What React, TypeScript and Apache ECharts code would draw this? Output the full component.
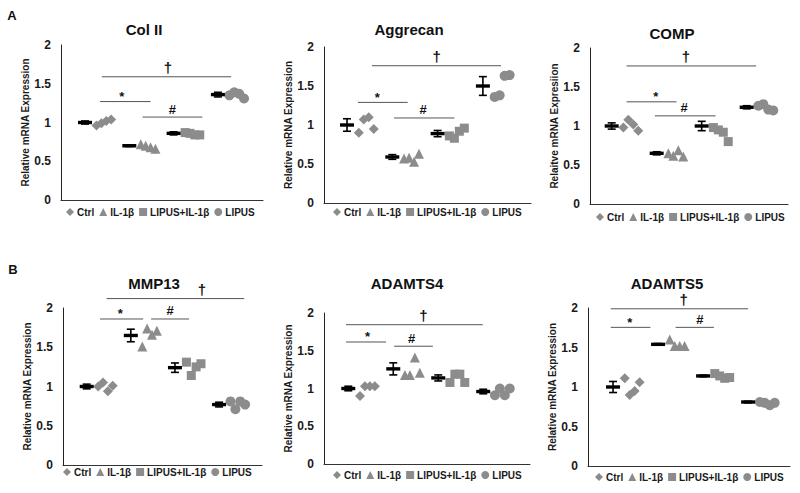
import React, { useEffect, useRef } from "react";
import * as echarts from "echarts";

const GROUPS = ["Ctrl", "IL-1β", "LIPUS+IL-1β", "LIPUS"];
const SYMBOLS = ["diamond", "triangle", "rect", "circle"];
const SYMBOL_SIZES = [10, 10, 9, 10];
const Y_TICKS = [0, 0.5, 1, 1.5, 2];

// Col II
const colIIMeans = [1.0, 0.7, 0.86, 1.36];
const colIISem = [0.02, 0.01, 0.02, 0.03];
const colIIPoints = [
  [0.96, 0.99, 1.02, 1.04],
  [0.72, 0.7, 0.68, 0.66],
  [0.87, 0.86, 0.84, 0.84],
  [1.35, 1.39, 1.37, 1.31],
];
const colIISig = [
  { x1: 1.38, x2: 4.3, y: 1.59, tx: 2.87, mark: "†" },
  { x1: 1.34, x2: 2.48, y: 1.27, tx: 1.83, mark: "*" },
  { x1: 2.3, x2: 3.65, y: 1.07, tx: 2.97, mark: "#" },
];

// Aggrecan
const aggMeans = [1.0, 0.59, 0.89, 1.5];
const aggSem = [0.08, 0.03, 0.04, 0.12];
const aggPoints = [
  [0.9, 1.07, 1.1, 0.95],
  [0.57, 0.58, 0.53, 0.63],
  [0.86, 0.83, 0.92, 0.96],
  [1.36, 1.38, 1.63, 1.64],
];
const aggSig = [
  { x1: 1.55, x2: 4.4, y: 1.76, tx: 2.98, mark: "†" },
  { x1: 1.24, x2: 2.34, y: 1.29, tx: 1.67, mark: "*" },
  { x1: 2.04, x2: 3.37, y: 1.09, tx: 2.68, mark: "#" },
];

// COMP
const compMeans = [1.0, 0.65, 1.0, 1.24];
const compSem = [0.04, 0.02, 0.06, 0.02];
const compPoints = [
  [0.98, 1.08, 1.02, 0.94],
  [0.65, 0.62, 0.69, 0.61],
  [0.98, 0.95, 0.92, 0.8],
  [1.26, 1.28, 1.21, 1.2],
];
const compSig = [
  { x1: 1.33, x2: 4.21, y: 1.77, tx: 2.65, mark: "†" },
  { x1: 1.33, x2: 2.44, y: 1.31, tx: 1.98, mark: "*" },
  { x1: 1.96, x2: 3.31, y: 1.13, tx: 2.61, mark: "#" },
];

// MMP13
const mmpMeans = [1.0, 1.65, 1.24, 0.77];
const mmpSem = [0.03, 0.08, 0.06, 0.03];
const mmpPoints = [
  [1.0, 1.05, 0.94, 1.01],
  [1.51, 1.74, 1.66, 1.71],
  [1.31, 1.14, 1.25, 1.29],
  [0.81, 0.71, 0.81, 0.77],
];
const mmpSig = [
  { x1: 1.45, x2: 4.57, y: 2.12, tx: 3.61, mark: "†" },
  { x1: 1.3, x2: 2.28, y: 1.86, tx: 1.76, mark: "*" },
  { x1: 2.46, x2: 3.32, y: 1.86, tx: 2.89, mark: "#" },
];

// ADAMTS4
const ad4Means = [1.0, 1.26, 1.14, 0.96];
const ad4Sem = [0.03, 0.08, 0.04, 0.03];
const ad4Points = [
  [0.9, 1.03, 1.03, 1.03],
  [1.18, 1.18, 1.41, 1.21],
  [1.08, 1.19, 1.19, 1.08],
  [0.91, 1.0, 0.91, 1.0],
];
const ad4Sig = [
  { x1: 0.95, x2: 3.99, y: 1.845, tx: 2.67, mark: "†" },
  { x1: 0.95, x2: 1.84, y: 1.616, tx: 1.43, mark: "*" },
  { x1: 2.02, x2: 2.88, y: 1.56, tx: 2.41, mark: "#" },
];

// ADAMTS5
const ad5Means = [1.0, 1.54, 1.14, 0.81];
const ad5Sem = [0.07, 0.01, 0.01, 0.01];
const ad5Points = [
  [1.11, 0.9, 0.95, 1.06],
  [1.6, 1.52, 1.52, 1.52],
  [1.17, 1.14, 1.11, 1.12],
  [0.81, 0.8, 0.77, 0.8],
];
const ad5Sig = [
  { x1: 0.95, x2: 4.0, y: 1.99, tx: 2.57, mark: "†" },
  { x1: 0.95, x2: 1.83, y: 1.755, tx: 1.37, mark: "*" },
  { x1: 2.39, x2: 3.24, y: 1.755, tx: 2.93, mark: "#" },
];

const PANELS = [
  { title: "Col II", yName: "Relative mRNA Expression", means: colIIMeans, sem: colIISem, points: colIIPoints, sig: colIISig },
  { title: "Aggrecan", yName: "Relative mRNA Expression", means: aggMeans, sem: aggSem, points: aggPoints, sig: aggSig },
  { title: "COMP", yName: "Relaitve mRNA Expresiion", means: compMeans, sem: compSem, points: compPoints, sig: compSig },
  { title: "MMP13", yName: "Relative mRNA Expression", means: mmpMeans, sem: mmpSem, points: mmpPoints, sig: mmpSig },
  { title: "ADAMTS4", yName: "Relative mRNA Expression", means: ad4Means, sem: ad4Sem, points: ad4Points, sig: ad4Sig },
  { title: "ADAMTS5", yName: "Relative mRNA Expression", means: ad5Means, sem: ad5Sem, points: ad5Points, sig: ad5Sig },
];

// layout (pixels / axis extents)
const LAYOUT = [
  { left: 61, top: 45, width: 202, height: 155, xMin: 0.458, xMax: 5.018, tx: 144, ty: 29, lx: 66, ly: 207 },
  { left: 324, top: 47, width: 207, height: 156, xMin: 0.492, xMax: 5.062, tx: 409, ty: 29, lx: 333, ly: 207 },
  { left: 590, top: 48, width: 198, height: 156, xMin: 0.518, xMax: 4.918, tx: 672, ty: 33, lx: 596, ly: 212 },
  { left: 63, top: 308, width: 199, height: 157, xMin: 0.463, xMax: 4.973, tx: 154, ty: 283, lx: 63, ly: 467 },
  { left: 324, top: 313, width: 206, height: 151, xMin: 0.46, xMax: 5.04, tx: 407, ty: 283, lx: 333, ly: 470 },
  { left: 588, top: 308, width: 202, height: 158, xMin: 0.444, xMax: 4.93, tx: 667, ty: 283, lx: 595, ly: 472 },
];
const OFFSETS = [0.26, 0.37, 0.48, 0.59];
const GRAY = "#8c8c8c";
const FONT = "Liberation Sans";

function buildOption() {
  const grid: any[] = [];
  const xAxis: any[] = [];
  const yAxis: any[] = [];
  const series: any[] = [];
  const legend: any[] = [];
  const graphic: any[] = [];

  PANELS.forEach((p, i) => {
    const L = LAYOUT[i];
    grid.push({ left: L.left, top: L.top, width: L.width, height: L.height, containLabel: false });
    xAxis.push({
      type: "value",
      gridIndex: i,
      min: L.xMin,
      max: L.xMax,
      axisLine: { show: true, onZero: false, lineStyle: { color: "#333", width: 1 } },
      axisTick: { show: false },
      axisLabel: { show: false },
      splitLine: { show: false },
    });
    yAxis.push({
      type: "value",
      gridIndex: i,
      min: Y_TICKS[0],
      max: Y_TICKS[Y_TICKS.length - 1],
      interval: 0.5,
      name: p.yName,
      nameLocation: "middle",
      nameGap: 29,
      nameTextStyle: { fontFamily: FONT, fontWeight: "bold", fontSize: 10, color: "#1a1a1a" },
      axisLine: { show: true, lineStyle: { color: "#222", width: 1 } },
      axisTick: { show: false },
      splitLine: { show: false },
      axisLabel: { fontFamily: FONT, fontWeight: "bold", fontSize: 12, color: "#1a1a1a", margin: 10 },
    });

    GROUPS.forEach((g, gi) => {
      series.push({
        type: "scatter",
        name: g,
        xAxisIndex: i,
        yAxisIndex: i,
        symbol: SYMBOLS[gi],
        symbolSize: SYMBOL_SIZES[gi],
        itemStyle: { color: GRAY, opacity: 1 },
        data: p.points[gi].map((v, j) => [gi + 1 + OFFSETS[j], v]),
        z: 3,
      });
    });

    series.push({
      type: "custom",
      xAxisIndex: i,
      yAxisIndex: i,
      clip: false,
      encode: { x: 0, y: 1 },
      data: p.means.map((m, gi) => [gi + 1, m, p.sem[gi]]),
      renderItem: (params: any, api: any) => {
        const x = api.value(0);
        const m = api.value(1);
        const s = api.value(2);
        const c = api.coord([x, m]);
        const t = api.coord([x, m + s]);
        const b = api.coord([x, m - s]);
        const st = { stroke: "#000", lineWidth: 1.6 };
        return {
          type: "group",
          children: [
            { type: "rect", shape: { x: c[0] - 7, y: c[1] - 1.7, width: 14, height: 3.4 }, style: { fill: "#000" } },
            { type: "line", shape: { x1: c[0], y1: t[1], x2: c[0], y2: b[1] }, style: st },
            { type: "line", shape: { x1: c[0] - 4, y1: t[1], x2: c[0] + 4, y2: t[1] }, style: st },
            { type: "line", shape: { x1: c[0] - 4, y1: b[1], x2: c[0] + 4, y2: b[1] }, style: st },
          ],
        };
      },
      z: 4,
    });

    series.push({
      type: "custom",
      xAxisIndex: i,
      yAxisIndex: i,
      clip: false,
      encode: { x: [0, 1], y: 2 },
      data: p.sig.map((s) => [s.x1, s.x2, s.y, s.tx]),
      renderItem: (params: any, api: any) => {
        const a = api.coord([api.value(0), api.value(2)]);
        const b = api.coord([api.value(1), api.value(2)]);
        const t = api.coord([api.value(3), api.value(2)]);
        const mark = p.sig[params.dataIndex].mark;
        const dy = mark === "†" ? 9 : mark === "*" ? 5 : 8;
        const fs = mark === "†" ? 15 : 13;
        return {
          type: "group",
          children: [
            { type: "line", shape: { x1: a[0], y1: a[1], x2: b[0], y2: b[1] }, style: { stroke: "#555", lineWidth: 1 } },
            {
              type: "text",
              x: t[0],
              y: t[1] - dy,
              style: { text: mark, fontFamily: FONT, fontWeight: "bold", fontSize: fs, fill: "#111", align: "center", verticalAlign: "middle" },
            },
          ],
        };
      },
      z: 5,
    });

    legend.push({
      left: L.lx,
      top: L.ly,
      orient: "horizontal",
      data: GROUPS,
      selectedMode: false,
      itemWidth: 8,
      itemHeight: 8,
      itemGap: 5,
      padding: 0,
      textStyle: { fontFamily: FONT, fontWeight: "bold", fontSize: 10, color: "#1a1a1a", padding: [0, 0, 0, -2] },
    });

    graphic.push({
      type: "text",
      x: L.tx,
      y: L.ty,
      style: { text: p.title, fontFamily: FONT, fontWeight: "bold", fontSize: 15, fill: "#111", align: "center", verticalAlign: "middle" },
    });
  });

  graphic.push({ type: "text", x: 12, y: 15, style: { text: "A", fontFamily: FONT, fontWeight: "bold", fontSize: 13, fill: "#111", align: "center", verticalAlign: "middle" } });
  graphic.push({ type: "text", x: 13, y: 269, style: { text: "B", fontFamily: FONT, fontWeight: "bold", fontSize: 13, fill: "#111", align: "center", verticalAlign: "middle" } });

  return {
    animation: false,
    backgroundColor: "#fff",
    grid,
    xAxis,
    yAxis,
    legend,
    series,
    graphic,
  };
}

export default function App() {
  const ref = useRef<HTMLDivElement>(null);
  useEffect(() => {
    if (!ref.current) return;
    const chart = echarts.init(ref.current, undefined, { renderer: "svg" });
    chart.setOption(buildOption() as any);
    return () => chart.dispose();
  }, []);
  return <div ref={ref} style={{ position: "absolute", left: 0, top: 0, width: 800, height: 493 }} />;
}
